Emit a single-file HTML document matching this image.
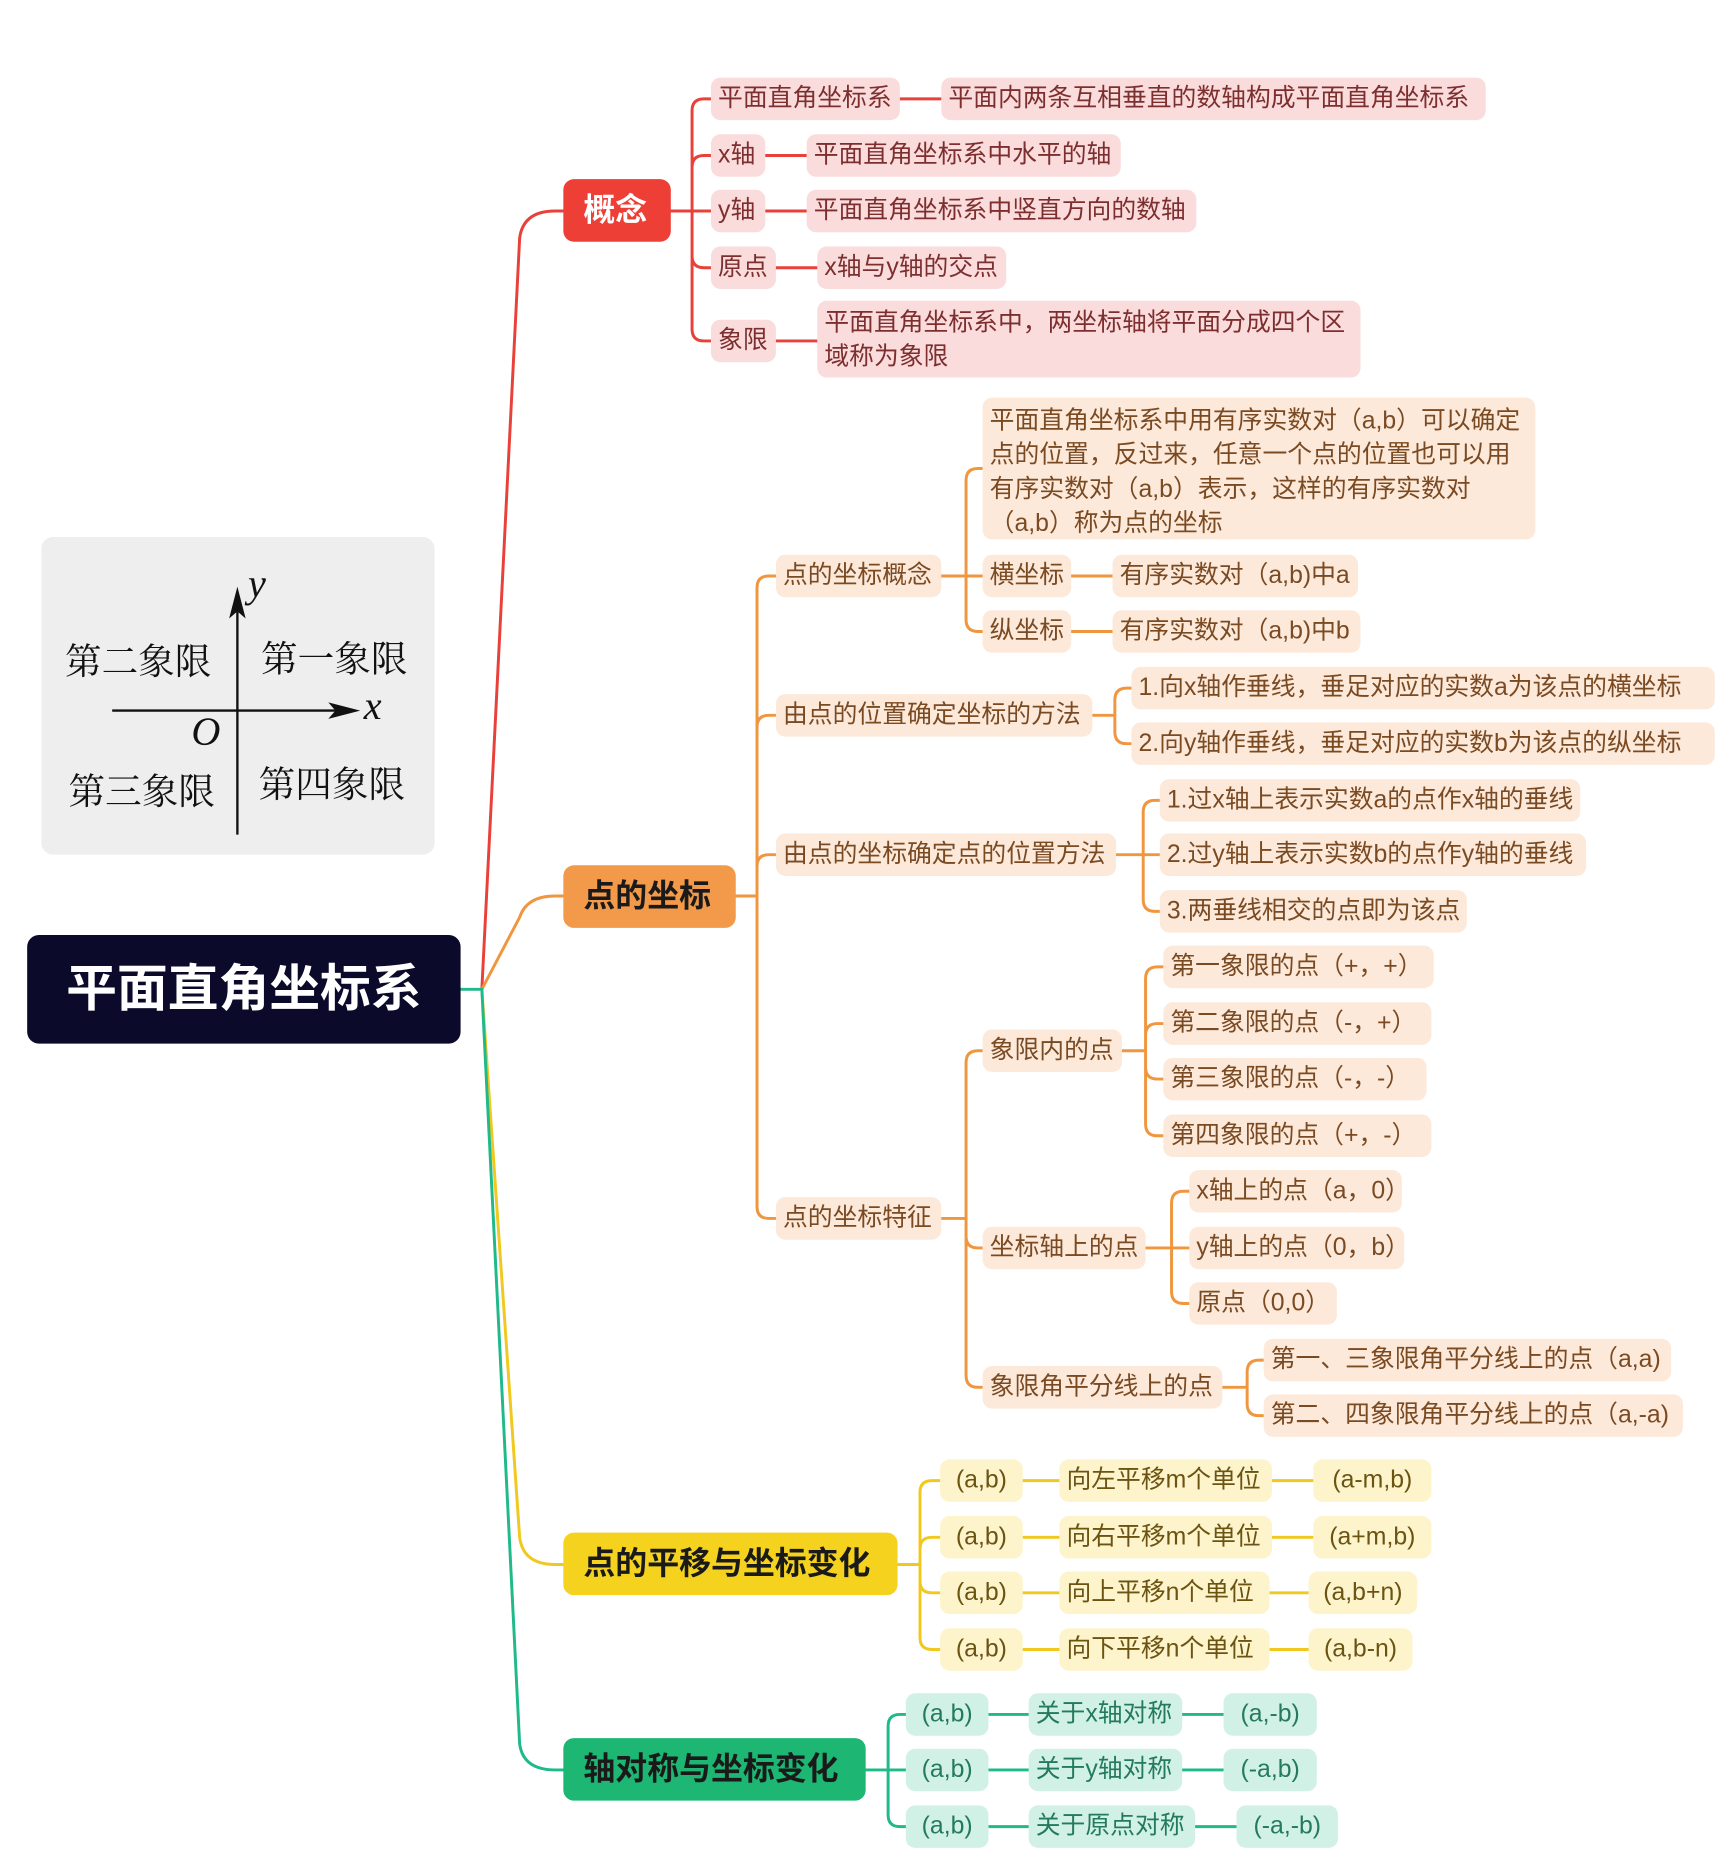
<!DOCTYPE html>
<html><head><meta charset="utf-8"><style>
html,body{margin:0;padding:0;background:#fff;}
body{width:1736px;height:1856px;overflow:hidden;position:relative;}
#w{position:absolute;left:0;top:2px;width:1470px;height:1572px;transform:scale(1.1810);transform-origin:0 0;}
.n{position:absolute;height:36px;line-height:36px;font-size:21px;white-space:nowrap;padding:0 6px;box-sizing:border-box;border-radius:8px;font-family:"Liberation Sans","Noto Sans CJK SC",sans-serif;letter-spacing:0;}
.r{background:#fbdcdc;color:#7d2f2f;}
.o{background:#fde9da;color:#7a4a22;}
.y{background:#fdf4cc;color:#6b5412;}
.g{background:#d2f1e6;color:#247a5c;}
.c{text-align:center;}
.L1{position:absolute;height:53px;line-height:53px;font-size:27px;font-weight:bold;border-radius:9px;padding:0 17px;box-sizing:border-box;white-space:nowrap;font-family:"Liberation Sans","Noto Sans CJK SC",sans-serif;color:#1a1a1a;}
.q{position:absolute;font-family:"Liberation Serif","Noto Serif CJK SC",serif;font-size:31px;color:#111;white-space:nowrap;}
.it{position:absolute;font-family:"Liberation Serif",serif;font-style:italic;font-size:34px;color:#111;}
svg{position:absolute;left:0;top:0;}
</style></head><body><div id="w">
<svg width="1470" height="1572" fill="none" stroke-width="2.5" stroke-linecap="round">
<g stroke="#e8413a">
<path d="M408 836 L440 200 Q443 177 470 177 H477"/>
<path d="M568 177 H602 M586 177 V92 Q586 82 596 82 H602 M586 177 V140 Q586 130 596 130 H602 M586 177 V215 Q586 225 596 225 H602 M586 177 V277 Q586 287 596 287 H602"/>
<path d="M762 82 H797 M648 130 H683 M648 177 H683 M657 225 H692 M657 287 H692"/>
</g>
<g stroke="#f0963f">
<path d="M408 836 L440 775 Q446 757 470 757 H477"/>
<path d="M623 757 H641 M641 757 V496 Q641 486 651 486 H657 M641 757 V614 Q641 604 651 604 H657 M641 757 V732 Q641 722 651 722 H657 M641 757 V1020 Q641 1030 651 1030 H657"/>
<path d="M797 486 H832 M818 486 V405 Q818 395 828 395 H832 M818 486 V523 Q818 533 828 533 H832 M907 486 H942 M907 533 H942"/>
<path d="M925 604 H944 M944 604 V591 Q944 581 954 581 H958 M944 604 V618 Q944 628 954 628 H958"/>
<path d="M945 722 H982 M968 722 V686 Q968 676 978 676 H982 M968 722 V760 Q968 770 978 770 H982"/>
<path d="M797 1030 H818 M818 1030 V898 Q818 888 828 888 H832 M818 1030 V1045 Q818 1055 828 1055 H832 M818 1030 V1163 Q818 1173 828 1173 H832"/>
<path d="M950 888 H970 M970 888 V827 Q970 817 980 817 H985 M970 888 V875 Q970 865 980 865 H985 M970 888 V902 Q970 912 980 912 H985 M970 888 V950 Q970 960 980 960 H985"/>
<path d="M970 1055 H1007 M992 1055 V1017 Q992 1007 1002 1007 H1007 M992 1055 V1092 Q992 1102 1002 1102 H1007"/>
<path d="M1035 1173 H1056 M1056 1173 V1160 Q1056 1150 1066 1150 H1070 M1056 1173 V1187 Q1056 1197 1066 1197 H1070"/>
</g>
<g stroke="#f0c81e">
<path d="M408 836 L440 1300 Q443 1323 470 1323 H477"/>
<path d="M760 1323 H779 M779 1323 V1262 Q779 1252 789 1252 H796 M779 1323 V1310 Q779 1300 789 1300 H796 M779 1323 V1337 Q779 1347 789 1347 H796 M779 1323 V1385 Q779 1395 789 1395 H796"/>
<path d="M866 1252 H897 M866 1300 H897 M866 1347 H897 M866 1395 H897 M1077 1252 H1112 M1077 1300 H1112 M1075 1347 H1108 M1075 1395 H1108"/>
</g>
<g stroke="#1fb98a">
<path d="M390 836 H408 L440 1475 Q443 1497 470 1497 H477"/>
<path d="M733 1497 H767 M752 1497 V1460 Q752 1450 762 1450 H767 M752 1497 V1535 Q752 1545 762 1545 H767"/>
<path d="M837 1450 H871 M837 1497 H871 M837 1545 H871 M1001 1450 H1036 M1001 1497 H1036 M1012 1545 H1047"/>
</g>
</svg>

<div style="position:absolute;left:35px;top:453px;width:333px;height:269px;background:#eeeeee;border-radius:10px;"></div>
<svg width="1470" height="1572">
<line x1="201" y1="510" x2="201" y2="705" stroke="#111" stroke-width="2"/>
<polygon points="201,495 194,522 201,516 208,522" fill="#111"/>
<line x1="95" y1="600" x2="290" y2="600" stroke="#111" stroke-width="2"/>
<polygon points="305,600 278,593 284,600 278,607" fill="#111"/>
</svg>
<div class="it" style="left:210px;top:475px;">y</div>
<div class="it" style="left:308px;top:578px;">x</div>
<div class="it" style="left:162px;top:600px;">O</div>
<div class="q" style="left:55px;top:533px;">第二象限</div>
<div class="q" style="left:221px;top:531px;">第一象限</div>
<div class="q" style="left:58px;top:643px;">第三象限</div>
<div class="q" style="left:219px;top:637px;">第四象限</div>

<div style="position:absolute;left:23px;top:790px;width:367px;height:92px;background:#0b0a2a;border-radius:10px;color:#fff;font:bold 43px/92px 'Liberation Sans','Noto Sans CJK SC',sans-serif;text-align:center;">平面直角坐标系</div>

<div class="L1" style="left:477px;top:150px;width:91px;background:#ee3f36;color:#fff;">概念</div>
<div class="L1" style="left:477px;top:731px;width:146px;background:#f3994a;">点的坐标</div>
<div class="L1" style="left:477px;top:1296px;width:283px;background:#f5d21e;">点的平移与坐标变化</div>
<div class="L1" style="left:477px;top:1470px;width:256px;background:#1db673;">轴对称与坐标变化</div>

<div class="n r" style="left:602px;top:64px;width:160px;">平面直角坐标系</div>
<div class="n r" style="left:797px;top:64px;width:461px;">平面内两条互相垂直的数轴构成平面直角坐标系</div>
<div class="n r" style="left:602px;top:112px;width:46px;">x轴</div>
<div class="n r" style="left:683px;top:112px;width:266px;">平面直角坐标系中水平的轴</div>
<div class="n r" style="left:602px;top:159px;width:46px;">y轴</div>
<div class="n r" style="left:683px;top:159px;width:330px;">平面直角坐标系中竖直方向的数轴</div>
<div class="n r" style="left:602px;top:207px;width:55px;">原点</div>
<div class="n r" style="left:692px;top:207px;width:160px;">x轴与y轴的交点</div>
<div class="n r" style="left:602px;top:269px;width:55px;">象限</div>
<div class="n r" style="left:692px;top:253px;width:460px;height:65px;line-height:29px;padding-top:4px;">平面直角坐标系中，两坐标轴将平面分成四个区<br>域称为象限</div>

<div class="n o" style="left:657px;top:468px;width:140px;">点的坐标概念</div>
<div class="n o" style="left:832px;top:335px;width:468px;height:120px;line-height:29px;padding-top:5px;">平面直角坐标系中用有序实数对（a,b）可以确定<br>点的位置，反过来，任意一个点的位置也可以用<br>有序实数对（a,b）表示，这样的有序实数对<br>（a,b）称为点的坐标</div>
<div class="n o" style="left:832px;top:468px;width:75px;">横坐标</div>
<div class="n o" style="left:942px;top:468px;width:208px;">有序实数对（a,b)中a</div>
<div class="n o" style="left:832px;top:515px;width:75px;">纵坐标</div>
<div class="n o" style="left:942px;top:515px;width:210px;">有序实数对（a,b)中b</div>
<div class="n o" style="left:657px;top:586px;width:268px;">由点的位置确定坐标的方法</div>
<div class="n o" style="left:958px;top:563px;width:494px;">1.向x轴作垂线，垂足对应的实数a为该点的横坐标</div>
<div class="n o" style="left:958px;top:610px;width:494px;">2.向y轴作垂线，垂足对应的实数b为该点的纵坐标</div>
<div class="n o" style="left:657px;top:704px;width:288px;">由点的坐标确定点的位置方法</div>
<div class="n o" style="left:982px;top:658px;width:356px;">1.过x轴上表示实数a的点作x轴的垂线</div>
<div class="n o" style="left:982px;top:704px;width:361px;">2.过y轴上表示实数b的点作y轴的垂线</div>
<div class="n o" style="left:982px;top:752px;width:260px;">3.两垂线相交的点即为该点</div>
<div class="n o" style="left:657px;top:1012px;width:140px;">点的坐标特征</div>
<div class="n o" style="left:832px;top:870px;width:118px;">象限内的点</div>
<div class="n o" style="left:985px;top:799px;width:229px;">第一象限的点（+，+）</div>
<div class="n o" style="left:985px;top:847px;width:227px;">第二象限的点（-，+）</div>
<div class="n o" style="left:985px;top:894px;width:223px;">第三象限的点（-，-）</div>
<div class="n o" style="left:985px;top:942px;width:227px;">第四象限的点（+，-）</div>
<div class="n o" style="left:832px;top:1037px;width:138px;">坐标轴上的点</div>
<div class="n o" style="left:1007px;top:989px;width:180px;">x轴上的点（a，0）</div>
<div class="n o" style="left:1007px;top:1037px;width:182px;">y轴上的点（0，b）</div>
<div class="n o" style="left:1007px;top:1084px;width:125px;">原点（0,0）</div>
<div class="n o" style="left:832px;top:1155px;width:203px;">象限角平分线上的点</div>
<div class="n o" style="left:1070px;top:1132px;width:345px;">第一、三象限角平分线上的点（a,a)</div>
<div class="n o" style="left:1070px;top:1179px;width:355px;">第二、四象限角平分线上的点（a,-a)</div>

<div class="n y c" style="left:796px;top:1234px;width:70px;">(a,b)</div>
<div class="n y" style="left:897px;top:1234px;width:180px;">向左平移m个单位</div>
<div class="n y c" style="left:1112px;top:1234px;width:100px;">(a-m,b)</div>
<div class="n y c" style="left:796px;top:1282px;width:70px;">(a,b)</div>
<div class="n y" style="left:897px;top:1282px;width:180px;">向右平移m个单位</div>
<div class="n y c" style="left:1112px;top:1282px;width:100px;">(a+m,b)</div>
<div class="n y c" style="left:796px;top:1329px;width:70px;">(a,b)</div>
<div class="n y" style="left:897px;top:1329px;width:178px;">向上平移n个单位</div>
<div class="n y c" style="left:1108px;top:1329px;width:92px;">(a,b+n)</div>
<div class="n y c" style="left:796px;top:1377px;width:70px;">(a,b)</div>
<div class="n y" style="left:897px;top:1377px;width:178px;">向下平移n个单位</div>
<div class="n y c" style="left:1108px;top:1377px;width:88px;">(a,b-n)</div>

<div class="n g c" style="left:767px;top:1432px;width:70px;">(a,b)</div>
<div class="n g" style="left:871px;top:1432px;width:130px;">关于x轴对称</div>
<div class="n g c" style="left:1036px;top:1432px;width:79px;">(a,-b)</div>
<div class="n g c" style="left:767px;top:1479px;width:70px;">(a,b)</div>
<div class="n g" style="left:871px;top:1479px;width:130px;">关于y轴对称</div>
<div class="n g c" style="left:1036px;top:1479px;width:79px;">(-a,b)</div>
<div class="n g c" style="left:767px;top:1527px;width:70px;">(a,b)</div>
<div class="n g" style="left:871px;top:1527px;width:141px;">关于原点对称</div>
<div class="n g c" style="left:1047px;top:1527px;width:86px;">(-a,-b)</div>
</div></body></html>
